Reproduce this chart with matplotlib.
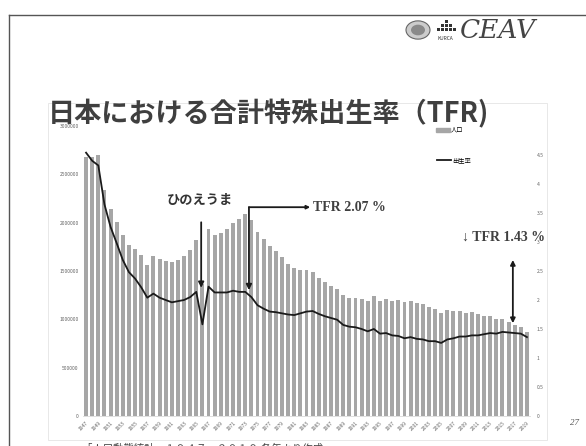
import matplotlib
matplotlib.use('Agg')
import matplotlib.pyplot as plt
import numpy as np
from matplotlib.patches import Patch, Circle, Rectangle
from matplotlib.lines import Line2D

plt.rcParams['font.family'] = ['Noto Sans CJK JP', 'DejaVu Sans']

# 出生数 (bars) and 合計特殊出生率 (line), 1947-2019
years = list(range(1947, 2020))
births = [2678792, 2681624, 2696638, 2337507, 2137689, 2005162, 1868040, 1769580,
          1730692, 1665278, 1566713, 1653469, 1626088, 1606041, 1589372, 1618616,
          1659521, 1716761, 1823697, 1360974, 1935647, 1871839, 1889815, 1934239,
          2000973, 2038682, 2091983, 2029989, 1901440, 1832617, 1755100, 1708643,
          1642580, 1576889, 1529455, 1515392, 1508687, 1489780, 1431577, 1382946,
          1346658, 1314006, 1246802, 1221585, 1223245, 1208989, 1188282, 1238328,
          1187064, 1206555, 1191665, 1203147, 1177669, 1190547, 1170662, 1153855,
          1123610, 1110721, 1062530, 1092674, 1089818, 1091156, 1070035, 1071304,
          1050806, 1037231, 1029816, 1003539, 1005677, 976978, 946146, 918400,
          865239]
tfr = [4.54, 4.40, 4.32, 3.65, 3.26, 2.98, 2.69, 2.48, 2.37, 2.22, 2.04, 2.11,
       2.04, 2.00, 1.96, 1.98, 2.00, 2.05, 2.14, 1.58, 2.23, 2.13, 2.13, 2.13,
       2.16, 2.14, 2.14, 2.05, 1.91, 1.85, 1.80, 1.79, 1.77, 1.75, 1.74, 1.77,
       1.80, 1.81, 1.76, 1.72, 1.69, 1.66, 1.57, 1.54, 1.53, 1.50, 1.46, 1.50,
       1.42, 1.43, 1.39, 1.38, 1.34, 1.36, 1.33, 1.32, 1.29, 1.29, 1.26, 1.32,
       1.34, 1.37, 1.37, 1.39, 1.39, 1.41, 1.43, 1.42, 1.45, 1.44, 1.43, 1.42,
       1.36]
left_ticks = [0, 500000, 1000000, 1500000, 2000000, 2500000, 3000000]
right_ticks = [0, 0.5, 1, 1.5, 2, 2.5, 3, 3.5, 4, 4.5]
right_labels = ['0', '0.5', '1', '1.5', '2', '2.5', '3', '3.5', '4', '4.5']

W, H = 586, 446
fig = plt.figure(figsize=(W / 100, H / 100), dpi=100)


def px(x, y):
    return x / W, 1 - y / H


# slide frame
fig.add_artist(Line2D([px(9, 0)[0], 1], [px(0, 15)[1]] * 2, color='#555555', lw=1))
fig.add_artist(Line2D([px(9, 0)[0]] * 2, [px(0, 15)[1], 0], color='#555555', lw=1))
# chart picture border
fig.add_artist(Rectangle(px(48, 440), (547 - 48) / W, (440 - 103) / H,
                         fill=False, ec='#e4e4e4', lw=0.6))

ax = fig.add_axes([83 / W, 1 - 416 / H, (530 - 83) / W, (416 - 126) / H])
x = np.arange(len(years))
ax.bar(x, births, width=0.64, color='#a6a6a6', zorder=2)
ax.set_xlim(-0.5, len(years) - 0.5)
ax.set_ylim(0, 3000000)
ax.set_yticks(left_ticks)
ax.set_yticklabels([str(t) for t in left_ticks])
ax.set_xticks(x[::2])
ax.set_xticklabels([str(y) for y in years[::2]], rotation=45, ha='right',
                   rotation_mode='anchor')
ax.tick_params(axis='both', length=0, labelsize=3.6, colors='#666666', pad=3)
for s in ['top', 'left', 'right']:
    ax.spines[s].set_visible(False)
ax.spines['bottom'].set_color('#d9d9d9')
ax.spines['bottom'].set_linewidth(0.6)

ax2 = ax.twinx()
ax2.plot(x, tfr, color='#1a1a1a', lw=1.3, zorder=3)
ax2.set_ylim(0, 5)
ax2.set_yticks(right_ticks)
ax2.set_yticklabels(right_labels)
ax2.tick_params(axis='y', length=0, labelsize=3.6, colors='#666666', pad=5)
for s in ['top', 'left', 'right', 'bottom']:
    ax2.spines[s].set_visible(False)

ax.legend(handles=[Patch(color='#a6a6a6', label='人口')], loc='center left',
          bbox_to_anchor=(px(436, 0)[0], px(0, 130)[1]), bbox_transform=fig.transFigure,
          frameon=False, fontsize=4.5, handlelength=2.2, handleheight=0.6,
          handletextpad=0.2, borderaxespad=0, borderpad=0)
ax2.legend(handles=[Line2D([], [], color='#1a1a1a', lw=1.3, label='出生率')],
           loc='center left', bbox_to_anchor=(px(437, 0)[0], px(0, 160)[1]),
           bbox_transform=fig.transFigure, frameon=False, fontsize=4.5,
           handlelength=2.2, handletextpad=0.2, borderaxespad=0, borderpad=0)

# annotations
arrow = dict(arrowstyle='-|>', color='#1a1a1a', lw=1.3, mutation_scale=8,
             shrinkA=0, shrinkB=0)
ax2.annotate('', xy=(18.8, 2.21), xytext=(18.8, 3.34), arrowprops=arrow)
ax2.text(18.6, 3.72, 'ひのえうま', ha='center', va='center', fontsize=9.5,
         fontweight='bold', color='#333333')

ax2.annotate('', xy=(26.6, 2.17), xytext=(26.6, 3.6), arrowprops=arrow)
ax2.annotate('', xy=(36.6, 3.6), xytext=(26.6, 3.6),
             arrowprops=dict(arrowstyle='-|>', color='#1a1a1a', lw=1.3,
                             mutation_scale=5, shrinkA=0, shrinkB=0))
ax2.text(37.1, 3.6, 'TFR 2.07 %', ha='left', va='center', fontsize=10,
         fontweight='bold', family='Liberation Serif', color='#404040')

ax2.annotate('', xy=(69.7, 1.60), xytext=(69.7, 2.69),
             arrowprops=dict(arrowstyle='<|-|>', color='#1a1a1a', lw=1.3,
                             mutation_scale=7, shrinkA=0, shrinkB=0))
ax2.text(61.4, 3.09, '↓ TFR 1.43 %', ha='left', va='center', fontsize=10,
         fontweight='bold', family=['Liberation Serif', 'DejaVu Serif'], color='#404040')

# title
fig.text(*px(48, 114), '日本における合計特殊出生率（TFR)', ha='left', va='center',
         fontsize=19.5, fontweight='bold', color='#3f3f3f')

# source line and page number
fig.text(*px(82, 444), '「人口動態統計」１９４７～２０１９ 各年より作成', ha='left',
         va='top', fontsize=7.5, color='#444444')
fig.text(*px(575, 423), '27', ha='center', va='center', fontsize=6.5,
         style='italic', family='Liberation Serif', color='#555555')

# logos
fig.add_artist(Circle(px(418, 30), 12 / W, transform=fig.transFigure,
                      fc='#cccccc', ec='#666666', lw=0.8))
fig.add_artist(Circle(px(418, 30), 7 / W, transform=fig.transFigure,
                      fc='#8a8a8a', ec='none'))
for cx, cy in [(437, 31), (441, 31), (445, 31), (449, 31), (453, 31),
               (441, 27), (445, 27), (449, 27), (445, 23)]:
    fig.add_artist(Rectangle(px(cx, cy), 3.4 / W, 3.4 / H, fc='#333333', ec='none'))
fig.text(*px(445, 39), 'KURCA', ha='center', va='center', fontsize=3.5,
         color='#333333')
fig.text(*px(460, 30), 'CEAV', ha='left', va='center', fontsize=19,
         family='DejaVu Serif', style='italic', color='#444444')

fig.savefig('out.png', dpi=100, facecolor='white')
